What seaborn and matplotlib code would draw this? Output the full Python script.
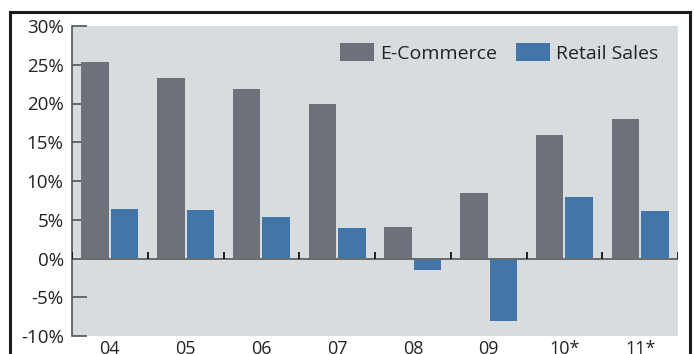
import numpy as np
import pandas as pd
import matplotlib
matplotlib.use("Agg")
import matplotlib.pyplot as plt
from matplotlib.patches import Rectangle
import seaborn as sns

# Annual growth rates (%)
years = ["04", "05", "06", "07", "08", "09", "10*", "11*"]
ecommerce = [25.3, 23.3, 21.9, 19.9, 4.1, 8.5, 16.0, 18.0]
retail = [6.4, 6.2, 5.4, 4.0, -1.5, -8.1, 8.0, 6.1]
series_names = ["E-Commerce", "Retail Sales"]
y_ticks = [-10, -5, 0, 5, 10, 15, 20, 25, 30]

df = pd.DataFrame({
    "year": years * 2,
    "growth": ecommerce + retail,
    "series": [series_names[0]] * len(years) + [series_names[1]] * len(years),
})

sns.set_theme(style="white")
plt.rcParams["font.family"] = ["Open Sans", "DejaVu Sans"]

GREY = "#6d727a"
BLUE = "#4276a9"
BG = "#d7dcdf"
FS = 13

fig = plt.figure(figsize=(6.94, 3.54), dpi=100)
fig.patch.set_facecolor("white")
ax = fig.add_axes([72 / 694, 18 / 354, 606 / 694, 310 / 354])
ax.set_facecolor(BG)

sns.barplot(data=df, x="year", y="growth", hue="series",
            palette=[GREY, BLUE], width=0.78, gap=0.07,
            saturation=1, ax=ax, edgecolor="none", linewidth=0)

ax.set_xlim(-0.5, len(years) - 0.5)
ax.set_ylim(-10, 30)
ax.set_yticks(y_ticks)
ax.set_yticklabels([f"{t}%" for t in y_ticks], fontsize=13.5, color="#222222")
ax.set_xticks(range(len(years)))
ax.set_xticklabels(years, fontsize=FS, color="#222222")
ax.set_xlabel("")
ax.set_ylabel("")

ax.tick_params(axis="y", direction="in", length=11, width=1.2,
               color="#555555", pad=6, left=True)
ax.tick_params(axis="x", length=0, pad=3)

for name in ["top", "right", "bottom"]:
    ax.spines[name].set_visible(False)
ax.spines["left"].set_color("#555555")
ax.spines["left"].set_linewidth(1.2)

# zero baseline and category separators
ax.axhline(0, color="#6a6a6a", lw=1.4, zorder=1)
ax.vlines(np.arange(-0.5, len(years), 1), 0, 0.9, color="#111111", lw=1.3, zorder=3)

leg = ax.legend(loc="upper right", ncol=2, frameon=False, fontsize=14,
                handlelength=1.75, handleheight=1.08, handletextpad=0.3,
                columnspacing=1.0, bbox_to_anchor=(0.99, 0.99),
                borderaxespad=0.3)
for t in leg.get_texts():
    t.set_color("#222222")

# outer frame
fig.add_artist(Rectangle((10 / 694, -0.2), 680 / 694, 1.2 - 12 / 354,
                         transform=fig.transFigure, fill=False,
                         edgecolor="#1a1a1a", lw=2.2, clip_on=False))

fig.savefig("out.png", dpi=100)
